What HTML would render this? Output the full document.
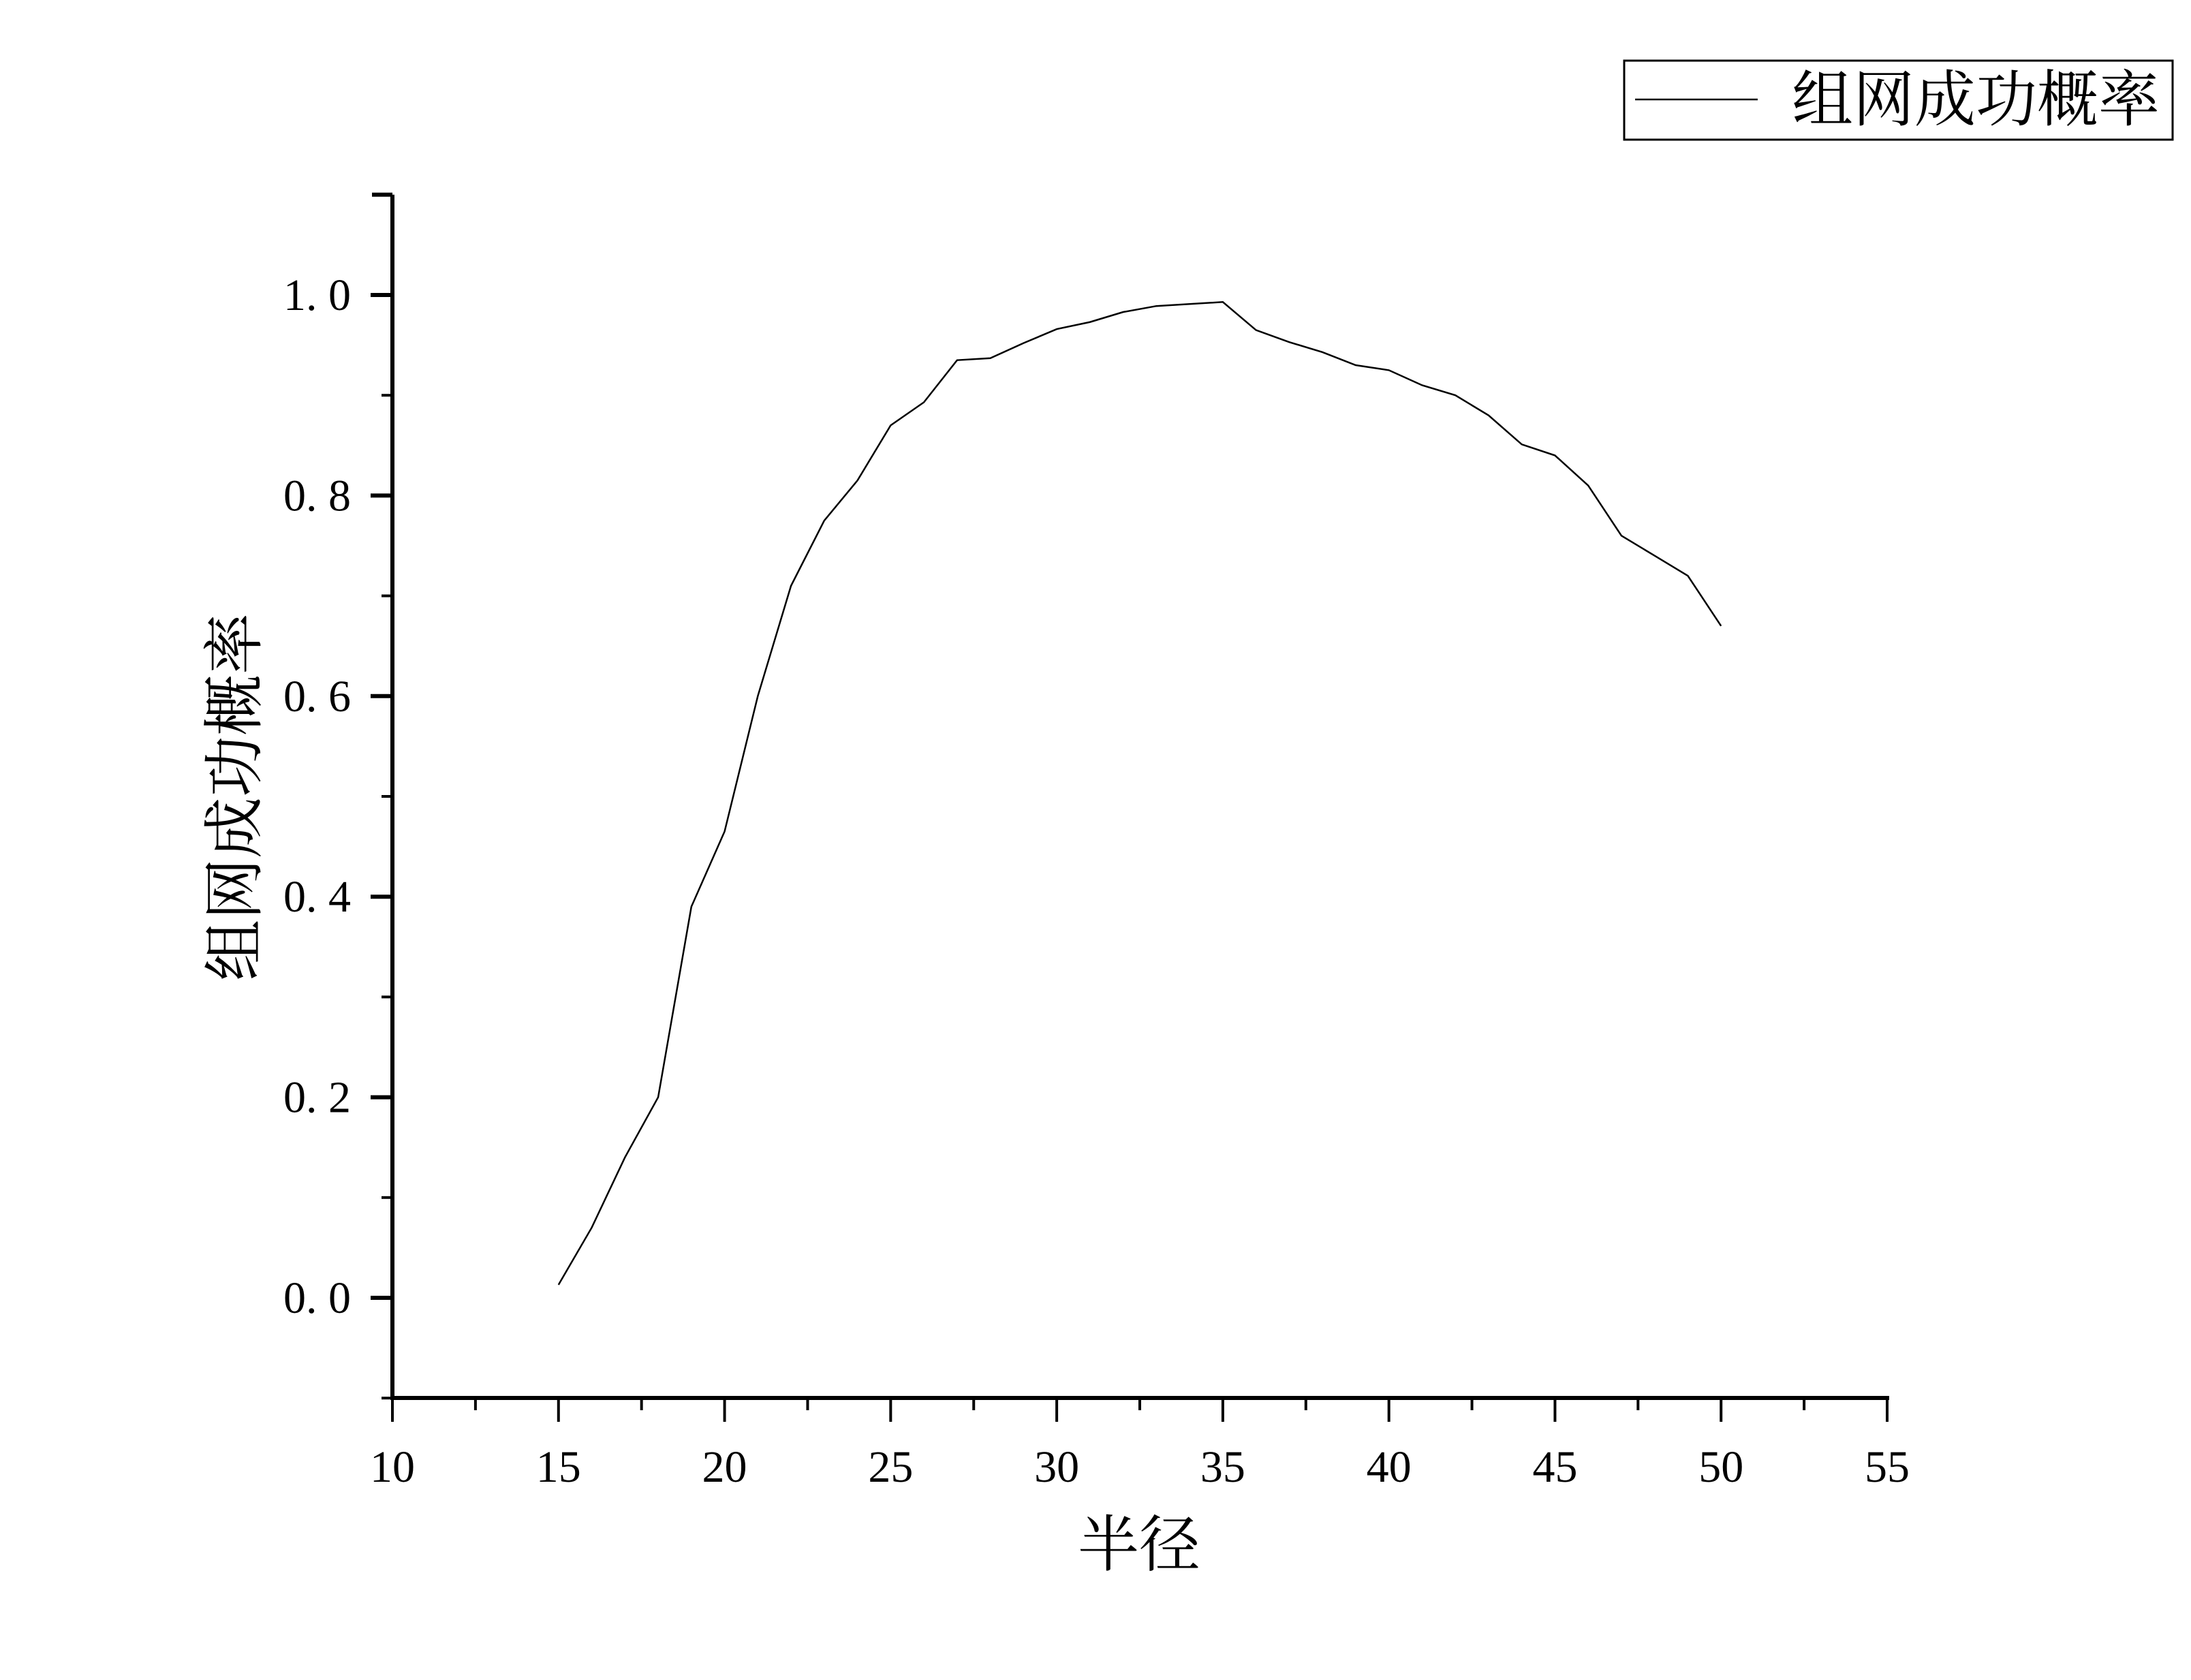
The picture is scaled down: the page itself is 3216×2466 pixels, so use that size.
<!DOCTYPE html>
<html><head><meta charset="utf-8"><style>
body{margin:0;background:#fff}
svg text{font-family:"Liberation Serif","Noto Serif CJK SC",serif;fill:#000}
</style></head><body>
<svg width="3216" height="2461" viewBox="0 0 3216 2461" id="c">
<rect width="3216" height="2461" fill="#fff"/>
<g>
<rect x="2384" y="89" width="805" height="116" fill="none" stroke="#000" stroke-width="3"/>
<line x1="2400" y1="146" x2="2580" y2="146" stroke="#000" stroke-width="2.5"/>
<text x="2630" y="177" font-size="90">组网成功概率</text>
</g>
<text x="1672" y="2298" font-size="90" text-anchor="middle">半径</text>
<text transform="translate(375,1170) rotate(-90)" font-size="90" text-anchor="middle">组网成功概率</text>
</svg>
<script>
const xValues=[15,16,17,18,19,20,21,22,23,24,25,26,27,28,29,30,31,32,33,34,35,36,37,38,39,40,41,42,43,44,45,46,47,48,49,50];
const yValues=[0.013,0.07,0.14,0.2,0.39,0.465,0.6,0.71,0.775,0.815,0.87,0.893,0.935,0.937,0.952,0.966,0.973,0.983,0.989,0.991,0.993,0.965,0.953,0.943,0.93,0.925,0.91,0.9,0.88,0.851,0.84,0.81,0.76,0.74,0.72,0.67];
const xTicks=[10,15,20,25,30,35,40,45,50,55];
const yTicks=[0,0.2,0.4,0.6,0.8,1.0];
const yTickLabels=["0. 0","0. 2","0. 4","0. 6","0. 8","1. 0"];
const ns="http://www.w3.org/2000/svg",svg=document.getElementById('c');
const X=v=>576+(v-10)*(2770-576)/45;
const Y=v=>1905-v*1472;
function mk(t,a){const e=document.createElementNS(ns,t);for(const k in a)e.setAttribute(k,a[k]);svg.appendChild(e);return e;}
let e=mk('line',{x1:576,y1:Y(1.1),x2:576,y2:2055,stroke:'#000','stroke-width':6});


e=mk('line',{x1:573,y1:2052,x2:2773,y2:2052,stroke:'#000','stroke-width':6});


e=mk('line',{x1:546,y1:Y(1.1),x2:576,y2:Y(1.1),stroke:'#000','stroke-width':6});


for(let v=-0.1;v<=1.101;v+=0.1){const r=Math.round(v*10);const major=r%2===0;
e=mk('line',{x1:major?544:560,y1:Y(r/10),x2:576,y2:Y(r/10),stroke:'#000','stroke-width':major?6:4});

}
yTicks.forEach((v,i)=>{e=mk('text',{x:515,y:Y(v)+22,'font-size':66,'text-anchor':'end'});e.textContent=yTickLabels[i];

});
for(let v=10;v<=55;v+=2.5){const major=v%5===0;
e=mk('line',{x1:X(v),y1:2052,x2:X(v),y2:major?2087:2070,stroke:'#000','stroke-width':4});

}
xTicks.forEach(v=>{e=mk('text',{x:X(v),y:2175,'font-size':66,'text-anchor':'middle'});e.textContent=String(v);

});
e=mk('polyline',{points:xValues.map((x,i)=>X(x)+','+Y(yValues[i])).join(' '),fill:'none',stroke:'#000','stroke-width':2.5});


</script>
</body></html>
